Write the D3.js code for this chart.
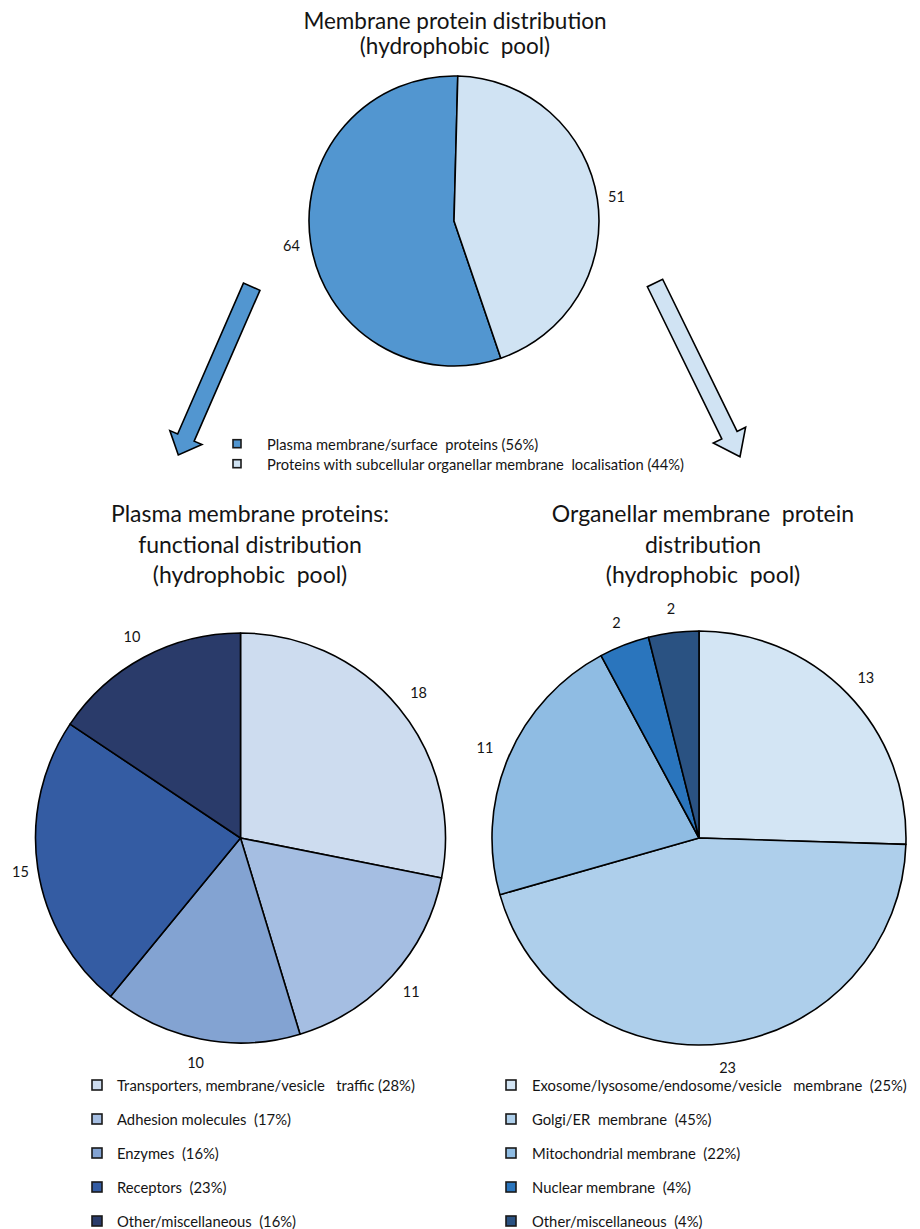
<!DOCTYPE html>
<html>
<head>
<meta charset="utf-8">
<script src="https://cdn.jsdelivr.net/npm/d3@7/dist/d3.min.js"></script>
<style>
  html, body { margin: 0; padding: 0; background: #ffffff; }
  svg { display: block; }
  text { font-family: Lato, "Open Sans", sans-serif; fill: #141414; white-space: pre; }
</style>
</head>
<body>
<svg id="chart" width="920" height="1229"></svg>
<script>
// ---- Data ----------------------------------------------------------------
const overviewCategories = [
  "Plasma membrane/surface  proteins (56%)",
  "Proteins with subcellular organellar membrane  localisation (44%)"
];
const overviewValues = [64, 51];
const overviewColors = ["#5296d0", "#d0e3f3"];

const plasmaCategories = [
  "Transporters, membrane/vesicle   traffic (28%)",
  "Adhesion molecules  (17%)",
  "Enzymes  (16%)",
  "Receptors  (23%)",
  "Other/miscellaneous  (16%)"
];
const plasmaValues = [18, 11, 10, 15, 10];
const plasmaColors = ["#cddcef", "#a5bee2", "#83a3d2", "#345ca3", "#2a3b6a"];

const organelleCategories = [
  "Exosome/lysosome/endosome/vesicle   membrane  (25%)",
  "Golgi/ER  membrane  (45%)",
  "Mitochondrial membrane  (22%)",
  "Nuclear membrane  (4%)",
  "Other/miscellaneous  (4%)"
];
const organelleValues = [13, 23, 11, 2, 2];
const organelleColors = ["#d3e5f4", "#aecfeb", "#8fbce3", "#2a75bd", "#2a5282"];

const overviewTitle = ["Membrane protein distribution", "(hydrophobic  pool)"];
const plasmaTitle = ["Plasma membrane proteins:", "functional distribution", "(hydrophobic  pool)"];
const organelleTitle = ["Organellar membrane  protein", "distribution", "(hydrophobic  pool)"];

// ---- Drawing -------------------------------------------------------------
const svg = d3.select("#chart");
const deg = Math.PI / 180;

function drawTitle(lines, cx, y0, lineGap, size) {
  svg.append("g").selectAll("text").data(lines).join("text")
    .attr("x", cx)
    .attr("y", (d, i) => y0 + i * lineGap)
    .attr("text-anchor", "middle")
    .style("font-size", size + "px")
    .text(d => d);
}

function drawPie(values, colors, cx, cy, r, startAngle, endAngle, labelGap) {
  const pie = d3.pie().sort(null).startAngle(startAngle).endAngle(endAngle);
  const arcs = pie(values);
  const arc = d3.arc().innerRadius(0).outerRadius(r);
  const g = svg.append("g").attr("transform", `translate(${cx},${cy})`);
  g.selectAll("path").data(arcs).join("path")
    .attr("d", arc)
    .attr("fill", (d, i) => colors[i])
    .attr("stroke", "#000")
    .attr("stroke-width", 1.6)
    .attr("stroke-linejoin", "round");

  // value labels just outside the rim, pushed out by half their box
  const labels = g.selectAll("text").data(arcs).join("text")
    .attr("text-anchor", "middle")
    .attr("dominant-baseline", "central")
    .style("font-size", "14.5px")
    .text(d => d.data);
  labels.each(function(d) {
    const a = (d.startAngle + d.endAngle) / 2;
    const w = this.getComputedTextLength();
    const h = 14;
    const sx = Math.sin(a), cy_ = -Math.cos(a);
    let x = (r + labelGap) * sx + sx * w / 2;
    const y = (r + labelGap) * cy_ + cy_ * h / 2;
    // keep labels inside the page edge
    const minX = 12 - cx + w / 2;
    if (x < minX) x = minX;
    d3.select(this).attr("x", x).attr("y", y);
  });
}

function arrowPath(tail, tip, shaftW, headW, headL) {
  const dx = tip[0] - tail[0], dy = tip[1] - tail[1];
  const len = Math.hypot(dx, dy);
  const ux = dx / len, uy = dy / len;
  const nx = -uy, ny = ux;
  const base = [tip[0] - ux * headL, tip[1] - uy * headL];
  const p = (pt, s) => [pt[0] + nx * s, pt[1] + ny * s];
  const pts = [
    p(tail, shaftW / 2), p(base, shaftW / 2), p(base, headW / 2), tip,
    p(base, -headW / 2), p(base, -shaftW / 2), p(tail, -shaftW / 2)
  ];
  return d3.line()(pts) + "Z";
}

function drawLegend(categories, colors, x, y0, gap, box, textX, size) {
  const g = svg.append("g");
  const rows = g.selectAll("g").data(categories).join("g")
    .attr("transform", (d, i) => `translate(${x},${y0 + i * gap})`);
  rows.append("rect")
    .attr("x", -box / 2).attr("y", -box / 2)
    .attr("width", box).attr("height", box)
    .attr("fill", (d, i) => colors[i])
    .attr("stroke", "#1a1a1a")
    .attr("stroke-width", 1.6);
  rows.append("text")
    .attr("x", textX)
    .attr("dominant-baseline", "central")
    .style("font-size", size + "px")
    .text(d => d);
}

// overview
drawTitle(overviewTitle, 455, 29, 25, 22.5);
drawPie(overviewValues, overviewColors, 454, 221, 145,
        1.5 * deg, 1.5 * deg - 2 * Math.PI, 11);

// arrows leading to the two breakdowns
svg.append("path")
  .attr("d", arrowPath([251.7, 286.7], [178.3, 455], 18, 35, 19))
  .attr("fill", overviewColors[0]).attr("stroke", "#000").attr("stroke-width", 1.6)
  .attr("stroke-linejoin", "miter");
svg.append("path")
  .attr("d", arrowPath([655, 283], [740, 456.7], 17, 36, 24))
  .attr("fill", overviewColors[1]).attr("stroke", "#000").attr("stroke-width", 1.6)
  .attr("stroke-linejoin", "miter");

drawLegend(overviewCategories, overviewColors, 237, 443.7, 20, 8, 30, 14.7);

// plasma membrane breakdown
drawTitle(plasmaTitle, 250, 522, 30.5, 23);
drawPie(plasmaValues, plasmaColors, 240.5, 838, 205, 0, 2 * Math.PI, 17);
drawLegend(plasmaCategories, plasmaColors, 97, 1085, 34, 10, 20, 14.8);

// organellar breakdown
drawTitle(organelleTitle, 703, 522, 30.5, 23);
drawPie(organelleValues, organelleColors, 699, 838, 207, 0, 2 * Math.PI, 17);
drawLegend(organelleCategories, organelleColors, 511, 1085, 34, 10, 21, 14.8);
</script>
</body>
</html>
